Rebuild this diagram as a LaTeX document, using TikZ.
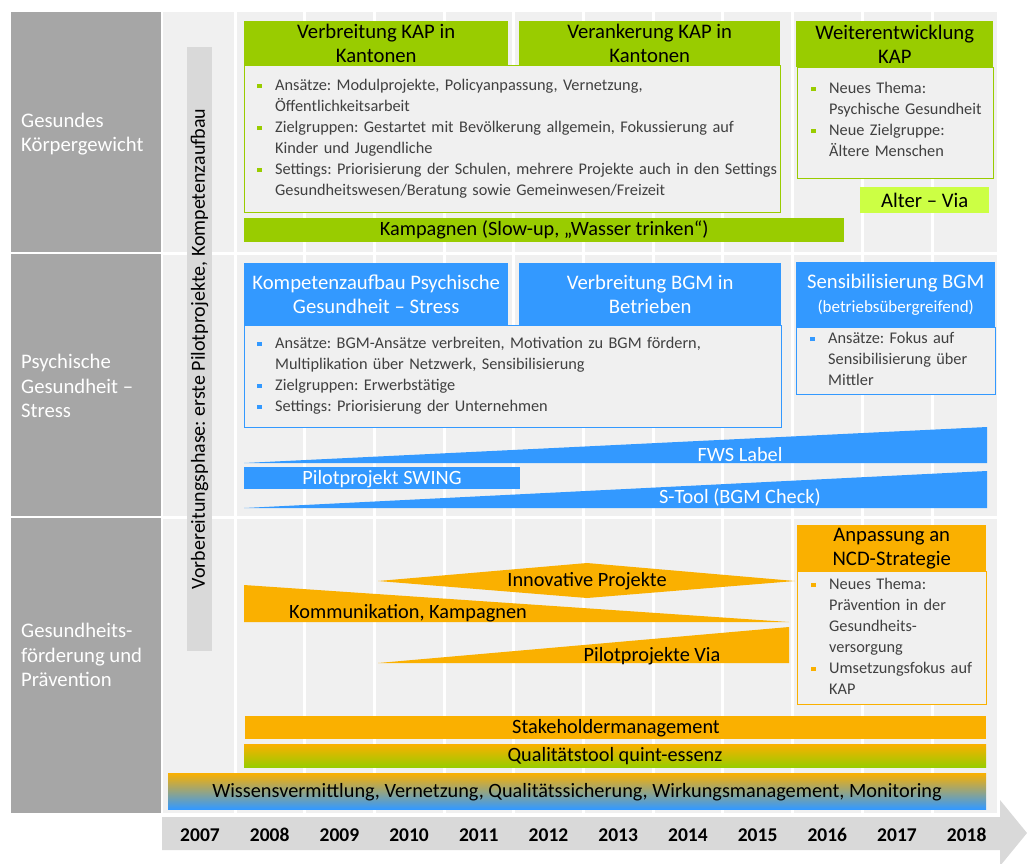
\documentclass[tikz,border=0pt]{standalone}
\usepackage{fontspec}
\setmainfont{Carlito}

\definecolor{kapgreen}{HTML}{99CC00}
\definecolor{viagreen}{HTML}{CCFF44}
\definecolor{bgmblue}{HTML}{3399FF}
\definecolor{ncdorange}{HTML}{FAB000}
\definecolor{rowgray}{HTML}{A6A6A6}
\definecolor{gridbg}{HTML}{F0F0F0}
\definecolor{bargray}{HTML}{D9D9D9}
\definecolor{bodytext}{HTML}{404040}

% bullet item with hanging indent
\newcommand{\bitem}[2]{\hangindent=18pt\hangafter=1\noindent\makebox[18pt][l]{\textcolor{#1}{\rule[0.3ex]{4.5pt}{4.5pt}}}#2\par}

\begin{document}
\frenchspacing
\begin{tikzpicture}[x=1pt, y=-1pt,
  hdr/.style={anchor=north west, inner sep=0pt, align=center, fill=#1, font=\fontsize{20.7}{24}\selectfont},
  panel/.style={anchor=north west, inner sep=0pt, fill=gridbg, draw=#1, line width=0.9pt},
  bullets/.style={anchor=north west, inner sep=0pt, text width=#1, text=bodytext, font=\fontsize{16.3}{21}\selectfont\raggedright\frenchspacing},
  barlabel/.style={inner sep=0pt, font=\fontsize{20.3}{23}\selectfont},
  rowlabel/.style={anchor=west, align=left, text=white, inner sep=0pt, font=\fontsize{20.7}{24.5}\selectfont},
  year/.style={font=\bfseries\fontsize{19.5}{22}\selectfont}]

\useasboundingbox (0,0) rectangle (1027,863);

% =========================
% Frame: rows, grid, timeline
% =========================
\fill[gridbg] (163,12) rectangle (997,813);
\foreach \i in {0,...,10}
  \draw[white, line width=3pt] ({235+69.7*\i},12) -- ({235+69.7*\i},813);
\foreach \yy in {253,517}
  \draw[white, line width=3pt] (163,\yy) -- (997,\yy);

% Row labels
\fill[rowgray] (11,12) rectangle (161,252);
\fill[rowgray] (11,254) rectangle (161,516);
\fill[rowgray] (11,518) rectangle (161,813);
\node[rowlabel] (rowkg) at (21,134) {Gesundes\\Körpergewicht};
\node[rowlabel] (rowps) at (21,386) {Psychische\\Gesundheit –\\Stress};
\node[rowlabel] (rowgf) at (21,655) {Gesundheits-\\förderung und\\Prävention};

% Timeline arrow
\fill[bargray] (162,817) -- (1000,817) -- (1000,800) -- (1027,833)
  -- (1000,866) -- (1000,850) -- (162,850) -- cycle;
\foreach \yr [count=\i from 0] in {2007,...,2018}
  \node[year] (y\yr) at ({200+69.7*\i},835) {\yr};

% Preparation phase
\fill[bargray] (187,47) rectangle (212,651);
\node[rotate=90, inner sep=0pt, font=\fontsize{20}{22}\selectfont] (prep) at (199.5,349)
  {Vorbereitungsphase: erste Pilotprojekte, Kompetenzaufbau};

% =========================
% Row 1: Gesundes Koerpergewicht
% =========================
\node[panel=kapgreen, minimum width=536, minimum height=147] (kappanel) at (244,65) {};
\node[hdr=kapgreen, minimum width=264, minimum height=44] (kapA) at (244,21) {Verbreitung KAP in\\Kantonen};
\node[hdr=kapgreen, minimum width=261, minimum height=44] (kapB) at (519,21) {Verankerung KAP in\\Kantonen};
\node[bullets=535] (kaptext) at (257,79) {%
  \bitem{kapgreen}{Ansätze: Modulprojekte, Policyanpassung, Vernetzung,\newline Öffentlichkeitsarbeit}
  \bitem{kapgreen}{Zielgruppen: Gestartet mit Bevölkerung allgemein, Fokussierung auf\newline Kinder und Jugendliche}
  \bitem{kapgreen}{Settings: Priorisierung der Schulen, mehrere Projekte auch in den Settings\newline Gesundheitswesen/Beratung sowie Gemeinwesen/Freizeit}};

\node[panel=kapgreen, minimum width=196, minimum height=111] (wkpanel) at (797,67) {};
\node[hdr=kapgreen, minimum width=197, minimum height=46] (wk) at (796,21) {Weiterentwicklung\\KAP};
\node[bullets=180] (wktext) at (811,82) {%
  \bitem{kapgreen}{Neues Thema:\newline Psychische Gesundheit}
  \bitem{kapgreen}{Neue Zielgruppe:\newline Ältere Menschen}};

\node[hdr=viagreen, minimum width=129, minimum height=26] (altervia) at (860,187) {Alter – Via};
\node[hdr=kapgreen, minimum width=600, minimum height=24, font=\fontsize{20.3}{23}\selectfont] (kampagnen) at (244,218)
  {Kampagnen (Slow-up, „Wasser trinken“)};

% =========================
% Row 2: Psychische Gesundheit - Stress
% =========================
\node[panel=bgmblue, minimum width=537, minimum height=102] (bgmpanel) at (244,325) {};
\node[hdr=bgmblue, text=white, minimum width=264, minimum height=62] (bgmA) at (244,263) {Kompetenzaufbau Psychische\\Gesundheit – Stress};
\node[hdr=bgmblue, text=white, minimum width=262, minimum height=62] (bgmB) at (519,263) {Verbreitung BGM in\\Betrieben};
\node[bullets=520] (bgmtext) at (257,337) {%
  \bitem{bgmblue}{Ansätze: BGM-Ansätze verbreiten, Motivation zu BGM fördern,\newline Multiplikation über Netzwerk, Sensibilisierung}
  \bitem{bgmblue}{Zielgruppen: Erwerbstätige}
  \bitem{bgmblue}{Settings: Priorisierung der Unternehmen}};

\node[panel=bgmblue, minimum width=199, minimum height=67] (senspanel) at (796,327) {};
\node[hdr=bgmblue, text=white, minimum width=199, minimum height=65] (sens) at (796,262)
  {Sensibilisierung BGM\\{\fontsize{17}{20}\selectfont(betriebsübergreifend)}};
\node[bullets=180] (senstext) at (810,332) {%
  \bitem{bgmblue}{Ansätze: Fokus auf\newline Sensibilisierung über\newline Mittler}};

% Wedges and bar
\fill[bgmblue] (244,463) -- (987,427) -- (987,463) -- cycle;
\node[barlabel, text=white] (fws) at (740,455) {FWS Label};
\fill[bgmblue] (244,467) rectangle (520,489);
\node[barlabel, text=white] (swing) at (382,479) {Pilotprojekt SWING};
\fill[bgmblue] (244,508) -- (987,471) -- (987,508) -- cycle;
\node[barlabel, text=white] (stool) at (740,497) {S-Tool (BGM Check)};

% =========================
% Row 3: Gesundheitsfoerderung und Praevention
% =========================
\node[panel=ncdorange, minimum width=189, minimum height=133] (ncdpanel) at (797,571) {};
\node[hdr=ncdorange, minimum width=189, minimum height=46] (ncd) at (797,525) {Anpassung an\\NCD-Strategie};
\node[bullets=175] (ncdtext) at (811,578) {%
  \bitem{ncdorange}{Neues Thema:\newline Prävention in der\newline Gesundheits-\newline versorgung}
  \bitem{ncdorange}{Umsetzungsfokus auf\newline KAP}};

\fill[ncdorange] (378,581) -- (587,563) -- (795,581) -- (587,598) -- cycle;
\node[barlabel] (innov) at (587,581) {Innovative Projekte};
\fill[ncdorange] (244,585) -- (789,622) -- (244,622) -- cycle;
\node[barlabel] (komm) at (408,613) {Kommunikation, Kampagnen};
\fill[ncdorange] (378,663) -- (789,627) -- (789,663) -- cycle;
\node[barlabel] (pvia) at (652,656) {Pilotprojekte Via};

% Cross-cutting bars
\fill[ncdorange] (245,716) rectangle (986,739);
\node[barlabel] (stake) at (616,728) {Stakeholdermanagement};
\shade[top color=ncdorange, bottom color=kapgreen] (244,744) rectangle (986,767);
\node[barlabel] (quint) at (615,756) {Qualitätstool quint-essenz};
\shade[top color=ncdorange, middle color=kapgreen, bottom color=bgmblue] (168,773) rectangle (986,809);
\node[barlabel] (wissen) at (577,792)
  {Wissensvermittlung, Vernetzung, Qualitätssicherung, Wirkungsmanagement, Monitoring};

\end{tikzpicture}
\end{document}
